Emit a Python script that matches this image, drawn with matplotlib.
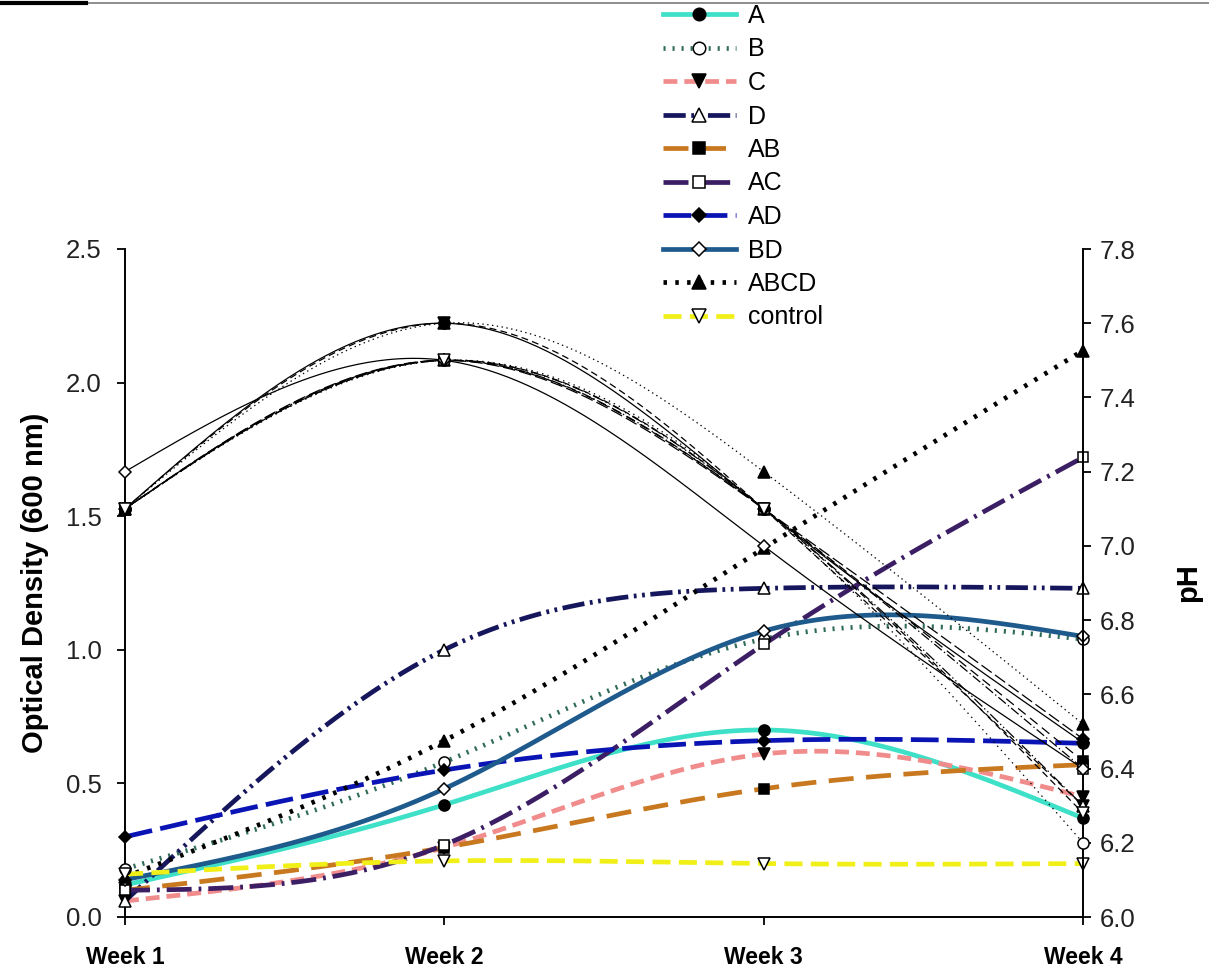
import matplotlib
matplotlib.use('Agg')
import matplotlib.pyplot as plt
import numpy as np
from matplotlib.lines import Line2D

plt.rcParams['font.family'] = ['Liberation Sans', 'DejaVu Sans']
plt.rcParams['lines.scale_dashes'] = False

weeks = ['Week 1', 'Week 2', 'Week 3', 'Week 4']
names = ['A', 'B', 'C', 'D', 'AB', 'AC', 'AD', 'BD', 'ABCD', 'control']

# optical density (600 nm)
od_A = [0.12, 0.42, 0.70, 0.37]
od_B = [0.18, 0.58, 1.04, 1.04]
od_C = [0.06, 0.26, 0.61, 0.45]
od_D = [0.06, 1.00, 1.23, 1.23]
od_AB = [0.10, 0.26, 0.48, 0.57]
od_AC = [0.10, 0.27, 1.02, 1.72]
od_AD = [0.30, 0.55, 0.66, 0.65]
od_BD = [0.14, 0.48, 1.07, 1.05]
od_ABCD = [0.15, 0.66, 1.38, 2.12]
od_control = [0.16, 0.21, 0.20, 0.20]

# pH
ph_A = [7.1, 7.6, 7.1, 6.47]
ph_B = [7.1, 7.5, 7.1, 6.20]
ph_C = [7.1, 7.6, 7.1, 6.30]
ph_D = [7.1, 7.5, 7.1, 6.30]
ph_AB = [7.1, 7.5, 7.1, 6.42]
ph_AC = [7.1, 7.5, 7.1, 6.40]
ph_AD = [7.1, 7.5, 7.1, 6.48]
ph_BD = [7.2, 7.5, 7.0, 6.40]
ph_ABCD = [7.1, 7.6, 7.2, 6.52]
ph_control = [7.1, 7.5, 7.1, 6.28]

od = [od_A, od_B, od_C, od_D, od_AB, od_AC, od_AD, od_BD, od_ABCD, od_control]
ph = [ph_A, ph_B, ph_C, ph_D, ph_AB, ph_AC, ph_AD, ph_BD, ph_ABCD, ph_control]

colors = ['#3fe0c8', '#2e6b58', '#f08c8c', '#16165c', '#c8781e',
          '#3c1e64', '#0a14b4', '#1e5a8c', '#000000', '#f0f018']
styles = ['-', (0, (1.5, 5)), (0, (10, 5)), (0, (16, 4, 2, 4, 2, 4)), (0, (18, 9)),
          (0, (18, 5, 2, 5)), (0, (20, 6)), '-', (0, (2.5, 6)), (0, (13, 6))]
thin_styles = ['-', (0, (1, 3)), (0, (5, 3)), (0, (8, 2, 1, 2, 1, 2)), (0, (7, 4)),
               (0, (7, 2, 1, 2)), (0, (9, 3)), '-', (0, (1, 2.5)), (0, (5, 3))]
markers = ['o', 'o', 'v', '^', 's', 's', 'D', 'D', '^', 'v']
filled = [True, False, True, False, True, False, True, False, True, False]
msizes = [8, 8, 8.5, 8.5, 7.5, 7.5, 6.5, 6.5, 8.5, 8.5]


def spline(y, n=301):
    # natural cubic spline through equally spaced points (for smooth drawing)
    y = np.asarray(y, float)
    k = len(y)
    A = np.zeros((k, k))
    rhs = np.zeros(k)
    A[0, 0] = A[-1, -1] = 1
    for i in range(1, k - 1):
        A[i, i - 1:i + 2] = [1, 4, 1]
        rhs[i] = 6 * (y[i - 1] - 2 * y[i] + y[i + 1])
    M = np.linalg.solve(A, rhs)
    xs = np.linspace(0, k - 1, n)
    i = np.minimum(xs.astype(int), k - 2)
    t = xs - i
    u = 1 - t
    ys = u * y[i] + t * y[i + 1] - (M[i] * (u - u ** 3) + M[i + 1] * (t - t ** 3)) / 6
    return xs, ys


fig = plt.figure(figsize=(12.09, 9.76), dpi=100)
ax = fig.add_axes([125 / 1209, 59 / 976, 958 / 1209, 668 / 976])
ax2 = ax.twinx()

x = np.arange(len(weeks))
handles = []
for k in range(len(names)):
    fc = 'black' if filled[k] else 'white'
    xs, ys = spline(od[k])
    ax.plot(xs, ys, color=colors[k], ls=styles[k], lw=3.4, zorder=2)
    ax.plot(x, od[k], ls='none', marker=markers[k], ms=msizes[k], mfc=fc,
            mec='black', mew=1.1, zorder=4, clip_on=False)
    xs, ys = spline(ph[k])
    ax2.plot(xs, ys, color='black', ls=thin_styles[k], lw=0.9, zorder=2)
    ax2.plot(x, ph[k], ls='none', marker=markers[k], ms=msizes[k], mfc=fc,
             mec='black', mew=1.1, zorder=3, clip_on=False)
    handles.append(Line2D([], [], color=colors[k], ls=styles[k], lw=3.4,
                          marker=markers[k], ms=msizes[k] + 1, mfc=fc, mec='black', mew=1.1))

ax.set_xlim(0, 3)
ax.set_ylim(0, 2.5)
ax2.set_ylim(6.0, 7.8)
ax.set_xticks(x)
ax.set_xticklabels(weeks, fontsize=16.5, fontweight='bold')
ax.set_yticks(np.arange(0, 2.51, 0.5))
ax.set_yticklabels(['%.1f' % v for v in np.arange(0, 2.51, 0.5)])
ax2.set_yticks(np.arange(6.0, 7.81, 0.2))
ax2.set_yticklabels(['%.1f' % v for v in np.arange(6.0, 7.81, 0.2)])

for a in (ax, ax2):
    a.spines['top'].set_visible(False)
    for s in a.spines.values():
        s.set_linewidth(1.4)
ax.spines['right'].set_visible(False)
ax2.spines['left'].set_visible(False)
ax2.spines['bottom'].set_visible(False)

ax.tick_params(axis='y', direction='out', length=6, width=1.3, pad=11,
               labelsize=18.5, labelcolor='#222222')
ax.tick_params(axis='x', direction='out', length=6, width=1.3, pad=15)
ax2.tick_params(axis='y', direction='out', length=6, width=1.3, pad=6,
                labelsize=18.5, labelcolor='#222222')

ax.set_ylabel('Optical Density (600 nm)', fontsize=21, fontweight='bold', labelpad=12)
ax2.set_ylabel('pH', fontsize=21, fontweight='bold', labelpad=28)

fig.legend(handles, names, loc='upper left', bbox_to_anchor=(663 / 1209, 1 - 4 / 976),
           frameon=False, fontsize=18, handlelength=2.9, handletextpad=0.5,
           labelspacing=0.38, borderpad=0, borderaxespad=0, numpoints=1)

# page edge lines at the top of the picture
fig.add_artist(Line2D([86 / 1209, 1], [1 - 3 / 976] * 2, color='#7a7a7a', lw=1.2,
                      transform=fig.transFigure))
fig.add_artist(Line2D([0, 86 / 1209], [1 - 3 / 976] * 2, color='black', lw=3,
                      transform=fig.transFigure))

fig.savefig('out.png', dpi=100)
